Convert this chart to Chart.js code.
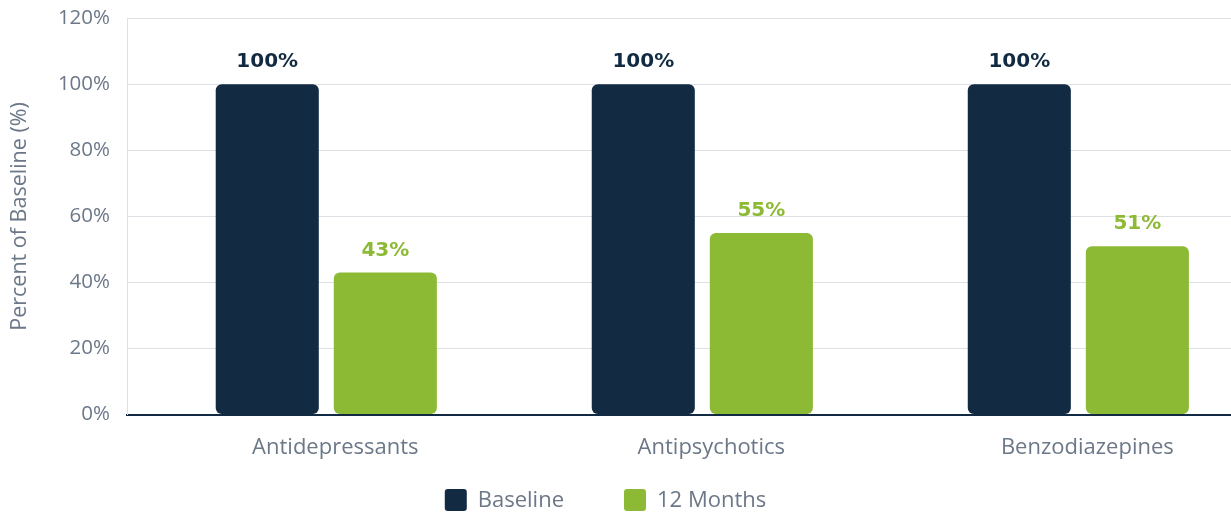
<!DOCTYPE html>
<html>
<head>
<meta charset="utf-8">
<script src="https://cdn.jsdelivr.net/npm/chart.js@4.4.1/dist/chart.umd.min.js"></script>
<style>
  html, body { margin: 0; padding: 0; background: #fff; overflow: hidden; }
  #wrap { width: 1231px; height: 514px; position: relative; }
</style>
</head>
<body>
<div id="wrap"><canvas id="myChart"></canvas></div>
<script>
'use strict';

let categories = ['Antidepressants', 'Antipsychotics', 'Benzodiazepines'];
let baselineValues = [100, 100, 100];
let monthValues = [43, 55, 51];
let yTicks = [0, 20, 40, 60, 80, 100, 120];

let navy = '#122a42';
let green = '#8dba35';
let grayText = '#6c7888';

function toPoints(values) {
  return values.map(function (v, i) { return { x: i, y: v }; });
}

// draws the value above each bar
const barLabels = {
  id: 'barLabels',
  afterDatasetsDraw(chart) {
    const ctx = chart.ctx;
    ctx.save();
    ctx.font = 'bold 20px "DejaVu Sans"';
    ctx.textAlign = 'center';
    ctx.textBaseline = 'alphabetic';
    chart.data.datasets.forEach(function (ds, di) {
      chart.getDatasetMeta(di).data.forEach(function (bar, i) {
        ctx.fillStyle = ds.backgroundColor;
        ctx.fillText(ds.data[i].y + '%', bar.x, bar.y - 17);
      });
    });
    ctx.restore();
  }
};

// legend along the bottom, wider spacing than the built-in one
const bottomLegend = {
  id: 'bottomLegend',
  afterDraw(chart) {
    const ctx = chart.ctx;
    const box = 22;
    const gap = 11;
    const spacing = 60;
    ctx.save();
    ctx.font = '22px "Open Sans"';
    ctx.textBaseline = 'middle';
    let items = chart.data.datasets.map(function (ds) {
      return { label: ds.label, color: ds.backgroundColor, w: box + gap + ctx.measureText(ds.label).width };
    });
    let total = items.reduce(function (s, it) { return s + it.w; }, 0) + spacing * (items.length - 1);
    let x = chart.width / 2 - 10 - total / 2;
    let y = chart.height - 14;
    items.forEach(function (it) {
      ctx.fillStyle = it.color;
      ctx.beginPath();
      ctx.roundRect(x, y - box / 2, box, box, 3);
      ctx.fill();
      ctx.fillStyle = grayText;
      ctx.fillText(it.label, x + box + gap, y + 1);
      x += it.w + spacing;
    });
    ctx.restore();
  }
};

const config = {
  type: 'bar',
  data: {
    datasets: [{
      label: 'Baseline',
      data: toPoints(baselineValues),
      backgroundColor: navy,
      borderRadius: 6,
      borderSkipped: false
    },
    {
      label: '12 Months',
      data: toPoints(monthValues),
      backgroundColor: green,
      borderRadius: 6,
      borderSkipped: false
    }]
  },
  options: {
    responsive: true,
    maintainAspectRatio: false,
    animation: false,
    categoryPercentage: 0.628,
    barPercentage: 0.873,
    layout: { padding: { top: 0, right: 0, left: 0, bottom: 33 } },
    plugins: {
      tooltip: { enabled: false },
      legend: { display: false }
    },
    scales: {
      x: {
        type: 'linear',
        offset: false,
        min: -0.53,
        max: 2.406,
        afterBuildTicks: function (scale) {
          scale.ticks = categories.map(function (c, i) { return { value: i }; });
        },
        grid: { display: false, drawTicks: false, offset: false },
        border: { display: true, color: navy, width: 2 },
        ticks: {
          padding: 20,
          labelOffset: 9,
          color: grayText,
          font: { family: 'Open Sans', size: 22 },
          callback: function (v) { return categories[v]; }
        }
      },
      y: {
        min: 0,
        max: 120,
        afterBuildTicks: function (scale) {
          scale.ticks = yTicks.map(function (v) { return { value: v }; });
        },
        afterFit: function (scale) { scale.width = 127; },
        grid: { color: '#dde1e6', drawTicks: true, tickLength: 11, tickColor: 'rgba(0,0,0,0)' },
        border: { display: true, color: '#dde1e6', width: 1 },
        title: {
          display: true,
          text: 'Percent of Baseline (%)',
          color: grayText,
          font: { family: 'Open Sans', size: 21.5 },
          padding: { top: 7, bottom: 0 }
        },
        ticks: {
          padding: 6,
          color: grayText,
          font: { family: 'Open Sans', size: 20.5 },
          callback: function (v) { return v + '%'; }
        }
      }
    }
  },
  plugins: [barLabels, bottomLegend]
};

const myChart = new Chart(document.getElementById('myChart'), config);
</script>
</body>
</html>
